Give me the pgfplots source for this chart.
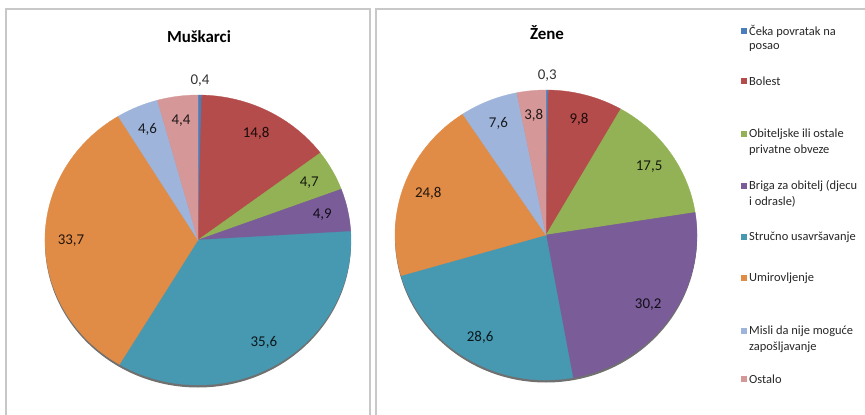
\documentclass[border=0pt]{standalone}
\usepackage{pgfplots}
\pgfplotsset{compat=1.18}
\usepackage{pgfplotstable}
\usepackage{fontspec}
\setmainfont{Carlito}

\definecolor{pc0}{HTML}{4A7EBB}
\definecolor{pc1}{HTML}{B34C4A}
\definecolor{pc2}{HTML}{92B255}
\definecolor{pc3}{HTML}{7A5C99}
\definecolor{pc4}{HTML}{4799B2}
\definecolor{pc5}{HTML}{E08C47}
\definecolor{pc6}{HTML}{9EB4DA}
\definecolor{pc7}{HTML}{D69798}
\definecolor{frame}{HTML}{C8C8C8}

% m = Muskarci, z = Zene
\pgfplotstableread{
idx m    z
0   0.4  0.3
1   14.8 9.8
2   4.7  17.5
3   4.9  30.2
4   35.6 28.6
5   33.7 24.8
6   4.6  7.6
7   4.4  3.8
}\pietable

% #1 column, #2 cx, #3 cy, #4 rx, #5 ry
\newcommand{\drawpie}[5]{%
  \xdef\pietot{0}%
  \pgfplotstableforeachcolumnelement{#1}\of\pietable\as\v{%
    \pgfmathparse{\pietot+\v}\xdef\pietot{\pgfmathresult}}%
  \fill[black!75, opacity=0.75] (axis cs:#2,#3-2.5) ellipse[x radius=#4bp, y radius=#5bp];
  \xdef\piecum{0}%
  \pgfplotstableforeachcolumnelement{#1}\of\pietable\as\v{%
    \pgfmathsetmacro\aa{90-\piecum/\pietot*360}%
    \pgfmathsetmacro\ab{90-(\piecum+\v)/\pietot*360}%
    \pgfmathsetmacro\am{(\aa+\ab)/2}%
    \pgfmathsetmacro\fr{\v/\pietot<0.01 ? 1.1 : 0.83}%
    \pgfmathtruncatemacro\r{\pgfplotstablerow}%
    \edef\col{pc\r}%
    \fill[fill=\col, draw=\col, line width=0.3bp] (axis cs:#2,#3)
      -- (axis cs:{#2+#4*cos(\aa)},{#3+#5*sin(\aa)})
      arc[start angle=\aa, end angle=\ab, x radius=#4bp, y radius=#5bp] -- cycle;
    \pgfmathparse{\v/\pietot<0.01 ? 1 : 0}%
    \ifnum\pgfmathresult=1 \def\lc{black!80}\else\edef\lc{\col!15!black}\fi
    \node[text=\lc, font=\fontsize{15}{18}\selectfont]
      at (axis cs:{#2+\fr*#4*cos(\am)},{#3+\fr*#5*sin(\am)})
      {\pgfmathprintnumber[assume math mode=true, use comma, fixed, fixed zerofill, precision=1]{\v}};
    \pgfmathparse{\piecum+\v}\xdef\piecum{\pgfmathresult}%
  }%
}

\newcommand{\legitem}[3]{% #1 colour, #2 y of line centre (image px), #3 text
  \fill[#1] (axis cs:741,{415-#2-3}) rectangle (axis cs:747,{415-#2+3});
  \node[anchor=west, inner sep=0pt, font=\fontsize{12.5}{15}\selectfont, text=black!85]
    at (axis cs:749,{415-#2}) {#3};
}
\newcommand{\legline}[2]{%
  \node[anchor=west, inner sep=0pt, font=\fontsize{12.5}{15}\selectfont, text=black!85]
    at (axis cs:749,{415-#1}) {#2};
}

\begin{document}
\begin{tikzpicture}
\begin{axis}[
    x=1bp, y=1bp,
    xmin=0, xmax=865, ymin=0, ymax=415,
    scale only axis, hide axis, clip=false,
    anchor=south west, at={(0,0)},
  ]
  % panel frames
  \draw[frame, line width=1.6bp] (axis cs:6,-1) -- (axis cs:6,406) -- (axis cs:370,406) -- (axis cs:370,-1);
  \draw[frame, line width=1.6bp] (axis cs:376,-1) -- (axis cs:376,406) -- (axis cs:866,406);

  \node[font=\fontsize{17}{20}\selectfont\bfseries] at (axis cs:199,378) {Muškarci};
  \node[font=\fontsize{17}{20}\selectfont\bfseries] at (axis cs:547,382) {Žene};

  \pgfplotsextra{\drawpie{m}{198}{175}{153}{145}}
  \pgfplotsextra{\drawpie{z}{546}{180}{151}{145}}

  \pgfplotsextra{%
    \legitem{pc0}{31}{Čeka povratak na}
    \legline{47}{posao}
    \legitem{pc1}{81}{Bolest}
    \legitem{pc2}{134}{Obiteljske ili ostale}
    \legline{150}{privatne obveze}
    \legitem{pc3}{186}{Briga za obitelj (djecu}
    \legline{202}{i odrasle)}
    \legitem{pc4}{237}{Stručno usavršavanje}
    \legitem{pc5}{278}{Umirovljenje}
    \legitem{pc6}{331}{Misli da nije moguće}
    \legline{347}{zapošljavanje}
    \legitem{pc7}{379}{Ostalo}
  }
\end{axis}
\pgfresetboundingbox
\path (0,0) rectangle (865bp,415bp);
\end{tikzpicture}
\end{document}
